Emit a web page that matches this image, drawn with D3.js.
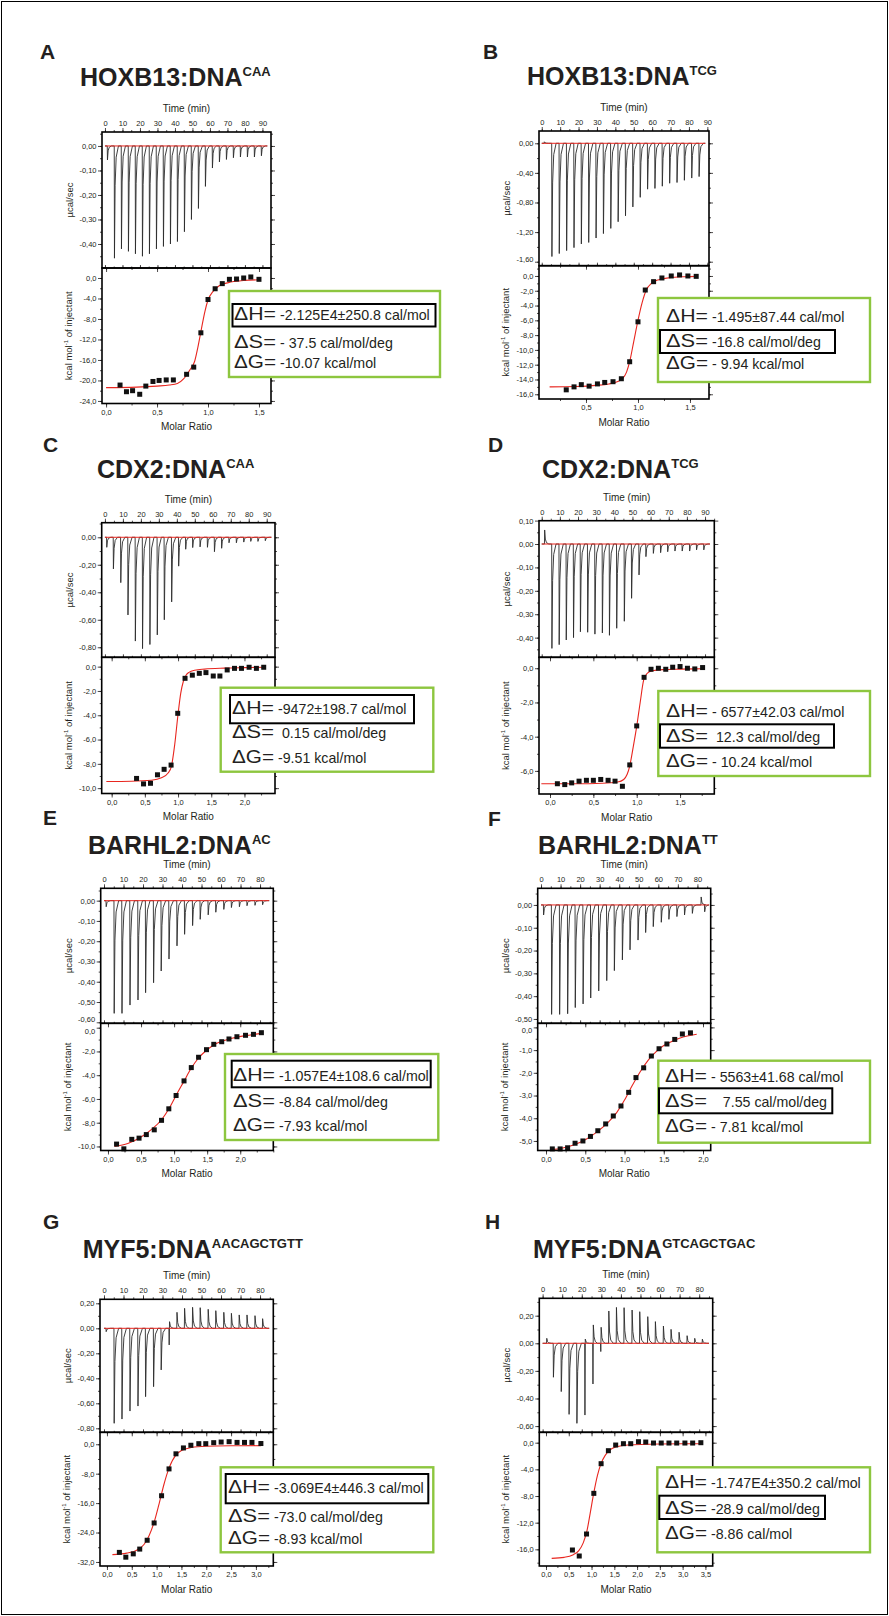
<!DOCTYPE html>
<html>
<head>
<meta charset="utf-8">
<script src="https://cdn.jsdelivr.net/npm/d3@7"></script>
<style>
body { margin: 0; background: #fff; }
text { font-family: "Liberation Sans", Arial, Helvetica, sans-serif; }
</style>
</head>
<body>
<div id="fig"></div>
<script>
// ---- raw thermograms: injection time (min), peak (µcal/sec) ----
var timeA = [1.3, 5.3, 9.3, 13.3, 17.3, 21.3, 25.3, 29.3, 33.3, 37.3, 41.3, 45.3, 49.3, 53.3, 57.3, 61.3, 65.3, 69.3, 73.3, 77.3, 81.3, 85.3, 89.3];
var peakA = [-0.057, -0.458, -0.42, -0.43, -0.44, -0.45, -0.44, -0.42, -0.41, -0.40, -0.39, -0.35, -0.30, -0.255, -0.165, -0.09, -0.065, -0.055, -0.048, -0.045, -0.045, -0.045, -0.04];
var timeB = [1.3, 5.4, 9.4, 13.4, 17.4, 21.4, 25.4, 29.4, 33.4, 37.4, 41.4, 45.4, 49.4, 53.4, 57.4, 61.4, 65.4, 69.4, 73.4, 77.4, 81.4, 85.4];
var peakB = [0.02, -1.53, -1.49, -1.45, -1.41, -1.36, -1.34, -1.28, -1.22, -1.15, -1.06, -0.98, -0.86, -0.73, -0.62, -0.61, -0.58, -0.54, -0.53, -0.50, -0.47, -0.45];
var timeC = [0.9, 4.6, 8.7, 12.7, 16.8, 20.8, 24.9, 29.0, 32.9, 37.0, 40.9, 44.8, 48.7, 52.8, 56.9, 60.8, 64.8, 68.9, 73.0, 77.1, 81.0, 85.0, 89.1];
var peakC = [-0.073, -0.23, -0.33, -0.565, -0.755, -0.81, -0.78, -0.71, -0.60, -0.47, -0.21, -0.087, -0.075, -0.07, -0.073, -0.105, -0.08, -0.04, -0.04, -0.035, -0.03, -0.03, -0.025];
var timeD = [1.5, 5.5, 9.5, 13.4, 17.4, 21.2, 25.2, 29.2, 33.3, 37.2, 41.2, 45.4, 49.4, 53.5, 57.3, 61.4, 65.4, 69.3, 73.3, 77.3, 81.4, 85.2, 89.2];
var peakD = [0.06, -0.446, -0.43, -0.41, -0.40, -0.375, -0.377, -0.385, -0.38, -0.39, -0.36, -0.33, -0.232, -0.132, -0.054, -0.04, -0.037, -0.033, -0.03, -0.03, -0.03, -0.025, -0.025];
var timeE = [1.0, 5.1, 9.1, 13.2, 17.3, 21.2, 25.3, 29.2, 33.2, 37.3, 41.2, 45.3, 49.2, 53.3, 57.2, 61.3, 65.2, 69.3, 73.2, 77.3, 81.2];
var peakE = [-0.03, -0.556, -0.556, -0.515, -0.49, -0.454, -0.405, -0.347, -0.288, -0.223, -0.166, -0.123, -0.092, -0.07, -0.057, -0.043, -0.034, -0.03, -0.025, -0.023, -0.02];
var timeF = [1.2, 5.3, 9.4, 13.5, 17.4, 21.4, 25.3, 29.4, 33.5, 37.4, 41.5, 45.4, 49.5, 53.4, 57.3, 61.4, 65.3, 69.4, 73.3, 77.3, 81.8, 83.6];
var peakF = [-0.044, -0.48, -0.48, -0.477, -0.45, -0.434, -0.408, -0.377, -0.332, -0.288, -0.241, -0.197, -0.154, -0.121, -0.095, -0.076, -0.063, -0.051, -0.044, -0.037, 0.035, -0.03];
var timeG = [1.0, 5.1, 9.1, 13.2, 17.3, 21.2, 25.3, 29.2, 33.3, 37.3, 41.2, 45.3, 49.2, 53.3, 57.2, 61.3, 65.2, 69.2, 73.2, 77.3, 81.2];
var peakG = [-0.027, -0.76, -0.726, -0.662, -0.622, -0.547, -0.467, -0.333, -0.133, 0.128, 0.16, 0.168, 0.165, 0.152, 0.141, 0.128, 0.12, 0.107, 0.107, 0.101, 0.077];
var upG   = [0, 0, 0, 0, 0, 0, 0, 0, 0.053, 0, 0, 0, 0, 0, 0, 0, 0, 0, 0, 0, 0];
var timeH = [2.0, 5.4, 9.4, 13.4, 17.4, 21.5, 25.6, 29.6, 33.7, 37.6, 41.5, 45.6, 49.5, 53.6, 57.5, 61.6, 65.5, 69.6, 73.7, 77.6, 81.5];
var peakH = [0.036, -0.246, -0.35, -0.515, -0.58, -0.52, -0.295, -0.06, 0.234, 0.26, 0.258, 0.241, 0.229, 0.193, 0.157, 0.125, 0.101, 0.08, 0.055, 0.036, 0.03];
var upH   = [0, 0, 0, 0, 0, 0.03, 0.133, 0.116, 0, 0, 0, 0, 0, 0, 0, 0, 0, 0, 0, 0, 0];

// ---- integrated heats: molar ratio, kcal/mol of injectant ----
var ratioA = [0.137, 0.20, 0.26, 0.33, 0.39, 0.46, 0.52, 0.59, 0.66, 0.79, 0.86, 0.93, 1.0, 1.07, 1.14, 1.21, 1.28, 1.35, 1.42, 1.50];
var heatA  = [-20.9, -22.2, -22.0, -22.7, -21.1, -20.2, -20.0, -19.9, -19.9, -18.8, -17.4, -10.7, -4.2, -2.1, -1.1, -0.26, -0.2, 0.0, 0.2, -0.26];
var ratioB = [0.31, 0.385, 0.455, 0.53, 0.61, 0.68, 0.76, 0.84, 0.92, 1.0, 1.07, 1.15, 1.23, 1.32, 1.40, 1.48, 1.56];
var heatB  = [-15.4, -15.0, -14.7, -14.9, -14.6, -14.4, -14.3, -13.9, -11.6, -6.2, -1.9, -0.77, -0.27, 0.0, 0.14, 0.0, -0.05];
var ratioC = [0.375, 0.48, 0.585, 0.69, 0.79, 0.895, 0.995, 1.105, 1.215, 1.32, 1.42, 1.53, 1.63, 1.74, 1.85, 1.955, 2.07, 2.18, 2.29];
var heatC  = [-9.2, -9.65, -9.6, -8.9, -8.45, -8.1, -3.84, -0.96, -0.7, -0.55, -0.49, -0.77, -0.77, -0.27, -0.14, -0.14, -0.05, -0.14, -0.05];
var ratioD = [0.085, 0.17, 0.25, 0.335, 0.42, 0.50, 0.585, 0.67, 0.75, 0.835, 0.92, 1.0, 1.085, 1.165, 1.25, 1.335, 1.415, 1.5, 1.585, 1.67, 1.76];
var heatD  = [-6.75, -6.8, -6.7, -6.6, -6.55, -6.55, -6.5, -6.55, -6.6, -6.9, -5.65, -3.37, -0.53, -0.06, 0.0, -0.06, 0.06, 0.1, 0.0, -0.04, 0.04];
var ratioE = [0.13, 0.24, 0.36, 0.47, 0.58, 0.70, 0.81, 0.92, 1.03, 1.15, 1.26, 1.37, 1.49, 1.60, 1.72, 1.83, 1.95, 2.08, 2.20, 2.32];
var heatE  = [-9.8, -10.2, -9.4, -9.3, -9.0, -8.6, -7.8, -6.83, -5.71, -4.48, -3.36, -2.49, -1.85, -1.4, -1.18, -0.95, -0.76, -0.64, -0.56, -0.42];
var ratioF = [0.08, 0.18, 0.275, 0.37, 0.47, 0.566, 0.66, 0.76, 0.857, 0.955, 1.053, 1.146, 1.244, 1.342, 1.44, 1.54, 1.64, 1.737, 1.84];
var heatF  = [-5.35, -5.35, -5.3, -5.1, -5.0, -4.8, -4.55, -4.25, -3.9, -3.46, -2.86, -2.21, -1.78, -1.26, -0.94, -0.73, -0.53, -0.29, -0.24];
var ratioG = [0.25, 0.38, 0.53, 0.66, 0.81, 0.95, 1.10, 1.25, 1.39, 1.54, 1.69, 1.85, 1.99, 2.15, 2.30, 2.46, 2.62, 2.77, 2.92, 3.10];
var heatG  = [-29.4, -30.7, -29.8, -28.5, -26.1, -21.4, -14.0, -6.7, -2.6, -1.0, -0.27, 0.16, 0.16, 0.43, 0.6, 0.7, 0.5, 0.5, 0.5, 0.2];
var ratioH = [0.58, 0.73, 0.89, 1.05, 1.21, 1.37, 1.53, 1.70, 1.86, 2.03, 2.19, 2.36, 2.53, 2.70, 2.87, 3.05, 3.22, 3.40];
var heatH  = [-16.1, -17.0, -13.7, -7.6, -3.15, -1.2, -0.35, -0.15, -0.15, 0.15, 0.1, -0.05, -0.05, -0.05, -0.05, -0.05, -0.05, 0.0];

// ---- fitted curves ----
var fitXA = [0.0, 0.3, 0.5, 0.62, 0.7, 0.76, 0.82, 0.87, 0.9, 0.93, 0.97, 1.0, 1.05, 1.11, 1.2, 1.35, 1.51];
var fitYA = [-21.4, -21.3, -21.1, -20.9, -20.6, -19.7, -18.0, -16.2, -13.6, -10.5, -6.5, -4.3, -2.6, -1.5, -0.9, -0.5, -0.35];
var fitXB = [0.15, 0.4, 0.6, 0.72, 0.8, 0.85, 0.89, 0.92, 0.96, 1.0, 1.04, 1.08, 1.13, 1.2, 1.3, 1.45, 1.57];
var fitYB = [-15.0, -14.95, -14.8, -14.6, -14.3, -13.9, -13.0, -11.6, -8.8, -6.0, -3.6, -1.9, -1.0, -0.5, -0.25, -0.1, -0.05];
var fitXC = [-0.08, 0.3, 0.6, 0.75, 0.85, 0.9, 0.95, 1.0, 1.04, 1.08, 1.12, 1.17, 1.25, 1.4, 1.7, 2.0, 2.29];
var fitYC = [-9.45, -9.43, -9.35, -9.15, -8.75, -8.2, -6.4, -3.9, -2.2, -1.2, -0.7, -0.45, -0.3, -0.2, -0.12, -0.08, -0.05];
var fitXD = [-0.1, 0.3, 0.6, 0.78, 0.85, 0.89, 0.92, 0.96, 1.0, 1.04, 1.08, 1.12, 1.18, 1.3, 1.5, 1.76];
var fitYD = [-6.75, -6.75, -6.72, -6.65, -6.5, -6.2, -5.7, -4.6, -3.4, -2.0, -0.7, -0.3, -0.15, -0.08, -0.05, -0.03];
var fitXE = [0.1, 0.3, 0.5, 0.65, 0.81, 0.92, 1.03, 1.15, 1.26, 1.37, 1.49, 1.6, 1.72, 1.83, 1.95, 2.08, 2.2, 2.32];
var fitYE = [-10.0, -9.75, -9.2, -8.6, -7.75, -6.85, -5.7, -4.5, -3.4, -2.55, -1.9, -1.45, -1.15, -0.95, -0.8, -0.67, -0.57, -0.48];
var fitXF = [0.07, 0.2, 0.35, 0.5, 0.65, 0.8, 0.9, 1.0, 1.1, 1.2, 1.3, 1.4, 1.5, 1.6, 1.7, 1.8, 1.92];
var fitYF = [-5.38, -5.32, -5.18, -4.95, -4.6, -4.15, -3.75, -3.2, -2.55, -1.95, -1.45, -1.08, -0.8, -0.62, -0.48, -0.38, -0.3];
var fitXG = [0.11, 0.4, 0.6, 0.75, 0.85, 0.95, 1.05, 1.15, 1.25, 1.39, 1.5, 1.7, 2.0, 2.5, 3.1];
var fitYG = [-30.0, -29.6, -28.8, -27.2, -24.8, -21.2, -16.2, -10.8, -6.5, -2.9, -1.7, -0.9, -0.55, -0.42, -0.38];
var fitXH = [0.125, 0.4, 0.6, 0.72, 0.82, 0.9, 0.97, 1.05, 1.13, 1.21, 1.3, 1.4, 1.55, 1.8, 2.5, 3.4];
var fitYH = [-17.35, -17.2, -16.8, -16.2, -15.0, -13.2, -10.6, -7.5, -4.9, -3.1, -1.9, -1.1, -0.6, -0.35, -0.2, -0.15];

// ---- tick labels ----
var time90 = [0, 10, 20, 30, 40, 50, 60, 70, 80, 90];
var time80 = [0, 10, 20, 30, 40, 50, 60, 70, 80];
var upTicksA = [0, -0.1, -0.2, -0.3, -0.4];
var upTicksB = [0, -0.4, -0.8, -1.2, -1.6];
var upTicksC = [0, -0.2, -0.4, -0.6, -0.8];
var upTicksD = [0.1, 0, -0.1, -0.2, -0.3, -0.4];
var upTicksE = [0, -0.1, -0.2, -0.3, -0.4, -0.5, -0.6];
var upTicksF = [0, -0.1, -0.2, -0.3, -0.4, -0.5];
var upTicksG = [0.2, 0, -0.2, -0.4, -0.6, -0.8];
var upTicksH = [0.2, 0, -0.2, -0.4, -0.6];
var loTicksA = [0, -4, -8, -12, -16, -20, -24];
var loTicksB = [0, -2, -4, -6, -8, -10, -12, -14, -16];
var loTicksC = [0, -2, -4, -6, -8, -10];
var loTicksD = [0, -2, -4, -6];
var loTicksE = [0, -2, -4, -6, -8, -10];
var loTicksF = [0, -1, -2, -3, -4, -5];
var loTicksG = [0, -8, -16, -24, -32];
var loTicksH = [0, -4, -8, -12, -16];
var rTicks15 = [0, 0.5, 1, 1.5];
var rTicksB  = [0.5, 1, 1.5];
var rTicks20 = [0, 0.5, 1, 1.5, 2];
var rTicks30 = [0, 0.5, 1, 1.5, 2, 2.5, 3];
var rTicks35 = [0, 0.5, 1, 1.5, 2, 2.5, 3, 3.5];

// ---- panel labels and fitted parameters ----
var letters = ["A", "B", "C", "D", "E", "F", "G", "H"];
var proteins = ["HOXB13:DNA", "HOXB13:DNA", "CDX2:DNA", "CDX2:DNA", "BARHL2:DNA", "BARHL2:DNA", "MYF5:DNA", "MYF5:DNA"];
var sites = ["CAA", "TCG", "CAA", "TCG", "AC", "TT", "AACAGCTGTT", "GTCAGCTGAC"];
var dH = ["-2.125E4\u00b1250.8 cal/mol", "-1.495\u00b187.44 cal/mol", "-9472\u00b1198.7 cal/mol", "- 6577\u00b142.03 cal/mol",
          "-1.057E4\u00b1108.6 cal/mol", "- 5563\u00b141.68 cal/mol", "-3.069E4\u00b1446.3 cal/mol", "-1.747E4\u00b1350.2 cal/mol"];
var dS = ["- 37.5 cal/mol/deg", "-16.8 cal/mol/deg", " 0.15 cal/mol/deg", " 12.3 cal/mol/deg",
          "-8.84 cal/mol/deg", "   7.55 cal/mol/deg", "-73.0 cal/mol/deg", "-28.9 cal/mol/deg"];
var dG = ["-10.07 kcal/mol", "- 9.94 kcal/mol", "-9.51 kcal/mol", "- 10.24 kcal/mol",
          "-7.93 kcal/mol", "- 7.81 kcal/mol", "-8.93 kcal/mol", "-8.86 cal/mol"];

// layout (pixels) for every panel
var panels = [
  {i:0, lx:40, ly:59, tx:80, ty:86, left:102, right:271, top:132, split:268, bottom:403.5,
   tDom:[-1.7,94.9], upDom:[0.057,-0.498], loDom:[1.95,-24.5], rDom:[-0.04,1.618],
   time:timeA, peak:peakA, ratio:ratioA, heat:heatA, fx:fitXA, fy:fitYA,
   tT:time90, uT:upTicksA, uM:0.05, lT:loTicksA, lM:2, rT:rTicks15,
   box:[229,291,211,86], blk:[232.5,304,203,22.5], base:[320,348,368], bx:234},
  {i:1, lx:483, ly:59, tx:527, ty:85, left:539, right:709, top:131, split:265.7, bottom:399,
   tDom:[-1.5,90.9], upDom:[0.166,-1.654], loDom:[1.39,-16.64], rDom:[0.048,1.683],
   time:timeB, peak:peakB, ratio:ratioB, heat:heatB, fx:fitXB, fy:fitYB,
   tT:time90, uT:upTicksB, uM:0.2, lT:loTicksB, lM:1, rT:rTicksB,
   box:[658,298,212,84], blk:[660,330,175,23], base:[321.7,347.3,369], bx:666},
  {i:2, lx:43, ly:452, tx:97, ty:478, left:101.7, right:275, top:522.7, split:657.3, bottom:793.5,
   tDom:[-1.8,94.6], upDom:[0.106,-0.873], loDom:[0.77,-10.44], rDom:[-0.15,2.46],
   time:timeC, peak:peakC, ratio:ratioC, heat:heatC, fx:fitXC, fy:fitYC,
   tT:time90, uT:upTicksC, uM:0.1, lT:loTicksC, lM:1, rT:rTicks20,
   box:[220.7,687.7,212.6,84], blk:[230,695,184,28.3], base:[714,738.3,763.3], bx:232},
  {i:3, lx:488, ly:452, tx:542, ty:478, left:539, right:714.3, top:520.7, split:657.3, bottom:794,
   tDom:[-1.5,95.1], upDom:[0.0996,-0.484], loDom:[0.64,-7.35], rDom:[-0.127,1.895],
   time:timeD, peak:peakD, ratio:ratioD, heat:heatD, fx:fitXD, fy:fitYD,
   tT:time90, uT:upTicksD, uM:0.05, lT:loTicksD, lM:1, rT:rTicks15,
   box:[658.3,691,211.7,85], blk:[660,724.3,174,23.4], base:[716.7,742.3,766.7], bx:666},
  {i:4, lx:43, ly:825, tx:88, ty:854, left:100.7, right:273.3, top:888.3, split:1023.3, bottom:1150.5,
   tDom:[-1.7,86.8], upDom:[0.061,-0.605], loDom:[0.37,-10.34], rDom:[-0.11,2.5],
   time:timeE, peak:peakE, ratio:ratioE, heat:heatE, fx:fitXE, fy:fitYE,
   tT:time80, uT:upTicksE, uM:0.05, lT:loTicksE, lM:1, rT:rTicks20,
   box:[225,1054,213.3,86], blk:[231.7,1060.7,199,26.6], base:[1081,1107.3,1131], bx:233},
  {i:5, lx:488, ly:826, tx:538, ty:854, left:537.7, right:710.7, top:888.3, split:1023.3, bottom:1150.5,
   tDom:[-1.7,86.8], upDom:[0.073,-0.519], loDom:[0.18,-5.42], rDom:[-0.106,2.098],
   time:timeF, peak:peakF, ratio:ratioF, heat:heatF, fx:fitXF, fy:fitYF,
   tT:time80, uT:upTicksF, uM:0.05, lT:loTicksF, lM:0.5, rT:rTicks20,
   box:[658.3,1060.7,211.7,82], blk:[659,1088.3,173.3,25], base:[1081.7,1107.3,1132], bx:665},
  {i:6, lx:43, ly:1229, tx:82.7, ty:1258, left:100, right:273.3, top:1299.3, split:1432.3, bottom:1566,
   tDom:[-2.05,86.8], upDom:[0.232,-0.832], loDom:[3.25,-33.1], rDom:[-0.14,3.35],
   time:timeG, peak:peakG, up:upG, ratio:ratioG, heat:heatG, fx:fitXG, fy:fitYG,
   tT:time80, uT:upTicksG, uM:0.1, lT:loTicksG, lM:4, rT:rTicks30,
   box:[220.7,1467.3,212.6,85], blk:[225.7,1474,202.6,29.3], base:[1493.3,1521.7,1544], bx:228},
  {i:7, lx:485, ly:1229, tx:533, ty:1258, left:539.3, right:712.7, top:1298.3, split:1432.3, bottom:1566,
   tDom:[-1.7,86.9], upDom:[0.326,-0.645], loDom:[1.56,-18.5], rDom:[-0.147,3.66],
   time:timeH, peak:peakH, up:upH, ratio:ratioH, heat:heatH, fx:fitXH, fy:fitYH,
   tT:time80, uT:upTicksH, uM:0.1, lT:loTicksH, lM:2, rT:rTicks35,
   box:[657.3,1467.3,212.7,85], blk:[659.3,1495.7,165.7,23.3], base:[1488.3,1514,1539.3], bx:665}
];

var width = 889, height = 1616;
var ink = "#231f20", red = "#e8261f", green = "#8dc63f";

var svg = d3.select("#fig").append("svg")
  .attr("width", width)
  .attr("height", height);

svg.append("rect")
  .attr("x", 1.5).attr("y", 1.5)
  .attr("width", width - 3).attr("height", height - 3)
  .attr("fill", "none").attr("stroke", "#000").attr("stroke-width", 1);

function comma(n) {
  return function(d) { return d.toFixed(n).replace(".", ","); };
}

// minor tick values inside a domain
function minors(dom, step) {
  var lo = Math.min(dom[0], dom[1]), hi = Math.max(dom[0], dom[1]);
  var out = [];
  for (var v = Math.ceil(lo / step) * step; v <= hi + 1e-9; v += step) out.push(+v.toFixed(4));
  return out;
}

// draw an axis (major + minor ticks), no domain line
function addAxis(g, axisFn, scale, major, minorVals, fmt, size, pad) {
  var a = g.append("g")
    .call(axisFn(scale).tickValues(minorVals).tickSize(size / 2).tickFormat(""));
  a.select(".domain").remove();
  var b = g.append("g")
    .call(axisFn(scale).tickValues(major).tickSize(size).tickPadding(pad).tickFormat(fmt || ""));
  b.select(".domain").remove();
  g.selectAll("line").attr("stroke", ink).attr("stroke-width", 0.8);
  g.selectAll("text").attr("font-size", 7.5).attr("fill", ink)
    .attr("font-family", "'Liberation Sans', Arial, sans-serif");
  return b;
}

// spike outline for one injection
function spike(t, p, u) {
  if (p < 0 && u > 0) {
    return [[t, 0], [t + 0.12, p], [t + 0.3, u], [t + 0.7, u * 0.35], [t + 1.3, u * 0.1], [t + 2.4, 0]];
  }
  return [[t, 0], [t + 0.12, p], [t + 0.5, p * 0.35], [t + 1.1, p * 0.1], [t + 2.4, 0]];
}

function drawPanel(p) {
  var g = svg.append("g");
  var mid = (p.left + p.right) / 2;

  var x = d3.scaleLinear().domain(p.tDom).range([p.left, p.right]);
  var yu = d3.scaleLinear().domain(p.upDom).range([p.top, p.split]);
  var yl = d3.scaleLinear().domain(p.loDom).range([p.split, p.bottom]);
  var xr = d3.scaleLinear().domain(p.rDom).range([p.left, p.right]);

  // letter + title
  g.append("text").attr("x", p.lx).attr("y", p.ly)
    .attr("font-size", 21).attr("font-weight", "bold").attr("fill", ink)
    .text(letters[p.i]);
  var title = g.append("text").attr("x", p.tx).attr("y", p.ty)
    .attr("font-size", 25).attr("font-weight", "bold").attr("fill", ink);
  title.append("tspan").text(proteins[p.i]);
  title.append("tspan").attr("font-size", 13).attr("dy", -9.7).text(sites[p.i]);

  // ---- upper: raw heat ----
  var tEnd = Math.min(p.time[p.time.length - 1] + 3.5, p.tDom[1] - 0.8);
  var pts = [[0, 0]];
  p.time.forEach(function(t, k) {
    var u = p.up ? p.up[k] : 0;
    pts = pts.concat(spike(t, p.peak[k], u));
  });
  pts.push([tEnd, 0]);

  g.append("path")
    .attr("d", d3.line().x(function(d) { return x(d[0]); }).y(function(d) { return yu(d[1]); })(pts))
    .attr("fill", "none").attr("stroke", "#2b2b2b").attr("stroke-width", 0.9)
    .attr("stroke-linejoin", "round");

  g.append("line")
    .attr("x1", x(0)).attr("x2", x(tEnd))
    .attr("y1", yu(0)).attr("y2", yu(0))
    .attr("stroke", red).attr("stroke-width", 1);

  // axes of the upper plot
  addAxis(g.append("g").attr("transform", "translate(0," + p.top + ")"),
    d3.axisTop, x, p.tT, minors(p.tDom, 5), function(d) { return d; }, 4, 2);
  addAxis(g.append("g").attr("transform", "translate(0," + p.split + ")"),
    d3.axisBottom, x, p.tT, minors(p.tDom, 5), null, -3, 0);
  var ul = addAxis(g.append("g").attr("transform", "translate(" + p.left + ",0)"),
    d3.axisLeft, yu, p.uT, minors(p.upDom, p.uM), comma(2), 4, 1.5);
  // keep the lowest label clear of the lower plot's first label
  ul.selectAll(".tick").filter(function(d) { return yu(d) > p.split - 4; })
    .select("text").attr("y", -3);
  addAxis(g.append("g").attr("transform", "translate(" + p.right + ",0)"),
    d3.axisRight, yu, p.uT, minors(p.upDom, p.uM), null, 4, 0);

  // ---- lower: integrated heats ----
  g.append("path")
    .attr("d", d3.line().curve(d3.curveMonotoneX)
      .x(function(d) { return xr(d); })
      .y(function(d, k) { return yl(p.fy[k]); })(p.fx))
    .attr("fill", "none").attr("stroke", red).attr("stroke-width", 1.1);

  g.selectAll("rect.pt").data(p.ratio).enter().append("rect")
    .attr("class", "pt")
    .attr("x", function(d) { return xr(d) - 2.5; })
    .attr("y", function(d, k) { return yl(p.heat[k]) - 2.5; })
    .attr("width", 5).attr("height", 5)
    .attr("fill", "#111");

  addAxis(g.append("g").attr("transform", "translate(0," + p.bottom + ")"),
    d3.axisBottom, xr, p.rT, minors(p.rDom, 0.25), comma(1), 4, 2);
  addAxis(g.append("g").attr("transform", "translate(0," + p.split + ")"),
    d3.axisTop, xr, p.rT, minors(p.rDom, 0.25), null, -4, 0);
  var ll = addAxis(g.append("g").attr("transform", "translate(" + p.left + ",0)"),
    d3.axisLeft, yl, p.lT, minors(p.loDom, p.lM), comma(1), 4, 1.5);
  ll.selectAll(".tick").filter(function(d) { return yl(d) < p.split + 6; })
    .select("text").attr("y", 3);
  addAxis(g.append("g").attr("transform", "translate(" + p.right + ",0)"),
    d3.axisRight, yl, p.lT, minors(p.loDom, p.lM), null, 4, 0);

  // frames
  g.append("rect").attr("x", p.left).attr("y", p.top)
    .attr("width", p.right - p.left).attr("height", p.split - p.top)
    .attr("fill", "none").attr("stroke", "#000").attr("stroke-width", 1.6);
  g.append("rect").attr("x", p.left).attr("y", p.split)
    .attr("width", p.right - p.left).attr("height", p.bottom - p.split)
    .attr("fill", "none").attr("stroke", "#000").attr("stroke-width", 1.6);

  // axis titles
  g.append("text").attr("x", mid).attr("y", p.top - 20)
    .attr("text-anchor", "middle").attr("font-size", 10).attr("fill", ink)
    .text("Time (min)");
  g.append("text").attr("x", mid).attr("y", p.bottom + 26.5)
    .attr("text-anchor", "middle").attr("font-size", 10).attr("fill", ink)
    .text("Molar Ratio");
  g.append("text")
    .attr("transform", "translate(" + (p.left - 29) + "," + ((p.top + p.split) / 2) + ") rotate(-90)")
    .attr("text-anchor", "middle").attr("font-size", 9.5).attr("fill", ink)
    .text("\u00b5cal/sec");
  var kc = g.append("text")
    .attr("transform", "translate(" + (p.left - 30) + "," + ((p.split + p.bottom) / 2) + ") rotate(-90)")
    .attr("text-anchor", "middle").attr("font-size", 9.5).attr("fill", ink);
  kc.append("tspan").text("kcal mol");
  kc.append("tspan").attr("font-size", 6).attr("dy", -4).text("-1");
  kc.append("tspan").attr("dy", 4).text(" of injectant");

  // thermodynamic box
  g.append("rect").attr("x", p.box[0]).attr("y", p.box[1])
    .attr("width", p.box[2]).attr("height", p.box[3])
    .attr("fill", "#fff").attr("stroke", green).attr("stroke-width", 2.4);
  g.append("rect").attr("x", p.blk[0]).attr("y", p.blk[1])
    .attr("width", p.blk[2]).attr("height", p.blk[3])
    .attr("fill", "none").attr("stroke", "#000").attr("stroke-width", 2);

  var rows = [["\u0394H=", dH[p.i]], ["\u0394S=", dS[p.i]], ["\u0394G=", dG[p.i]]];
  rows.forEach(function(r, k) {
    g.append("text").attr("x", p.bx).attr("y", p.base[k])
      .attr("font-size", 18).attr("fill", ink)
      .attr("textLength", 42).attr("lengthAdjust", "spacingAndGlyphs")
      .text(r[0]);
    g.append("text").attr("x", p.bx + 46).attr("y", p.base[k])
      .attr("font-size", 14.2).attr("fill", ink).style("white-space", "pre")
      .text(r[1]);
  });
}

panels.forEach(drawPanel);
</script>
</body>
</html>
